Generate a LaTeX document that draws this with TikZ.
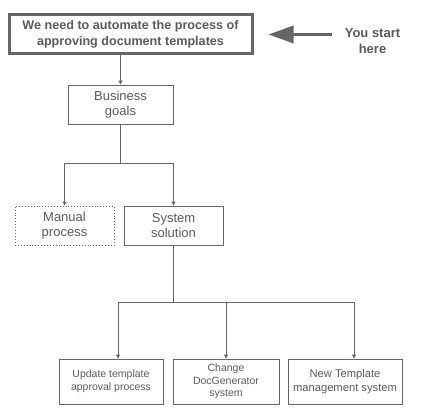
\documentclass[tikz,border=0pt]{standalone}
\usepackage{fontspec}
\setmainfont{Liberation Sans}
\usetikzlibrary{arrows.meta}
\definecolor{ln}{HTML}{666666}
\definecolor{tx}{HTML}{5A5A5A}
\begin{document}
\begin{tikzpicture}[x=1pt,y=-1pt,
  box/.style={draw=ln,line width=0.9pt,text=tx,align=center,inner sep=0pt,font=\fontsize{13}{15}\selectfont},
  small/.style={font=\fontsize{10.5}{13}\selectfont},
  conn/.style={draw=ln,line width=0.9pt,-{Triangle[length=4pt,width=4pt]}},
  bigarrow/.style={draw=ln,line width=3.5pt,-{Triangle[length=25pt,width=17pt]}}]
\useasboundingbox (0,0) rectangle (434,412);
\node[box,line width=3pt,minimum width=243pt,minimum height=39pt,font=\bfseries\fontsize{12.6}{16}\selectfont] (top) at (130.5,34.5) {We need to automate the process of\\approving document templates};
\node[text=tx,align=center,inner sep=0pt,font=\bfseries\fontsize{13}{16}\selectfont] (you) at (372.5,41) {You start\\here};
\node[box,minimum width=105pt,minimum height=39pt] (bg) at (120.5,104.5) {Business\\goals};
\node[box,dotted,minimum width=99pt,minimum height=39pt] (man) at (64.5,225.5) {Manual\\process};
\node[box,minimum width=99pt,minimum height=39pt] (sys) at (173.5,225.5) {System\\solution};
\node[box,small,minimum width=104pt,minimum height=45pt] (b1) at (111,381.5) {Update template\\approval process};
\node[box,font=\fontsize{10.5}{12.5}\selectfont,minimum width=106pt,minimum height=45pt] (b2) at (226,381.5) {Change\\DocGenerator\\system};
\node[box,font=\fontsize{11.2}{14.5}\selectfont,minimum width=114pt,minimum height=45pt] (b3) at (345,381.5) {New Template\\management system};
\coordinate (j1) at (120.5,163);
\coordinate (j2) at (173.5,302);
\draw[bigarrow,shorten <=13pt,shorten >=15pt] (you.west |- top.east) -- (top.east);
\draw[conn] (bg.north |- top.south) -- (bg.north);
\draw[conn] (bg.south) -- (j1) -| (man.north);
\draw[conn] (j1) -| (sys.north);
\draw[conn] (sys.south) -- (j2) -| ([xshift=7pt]b1.north);
\draw[conn] (j2) -| ([xshift=9pt]b3.north);
\draw[conn] (b2.north |- j2) -- (b2.north);
\end{tikzpicture}
\end{document}
